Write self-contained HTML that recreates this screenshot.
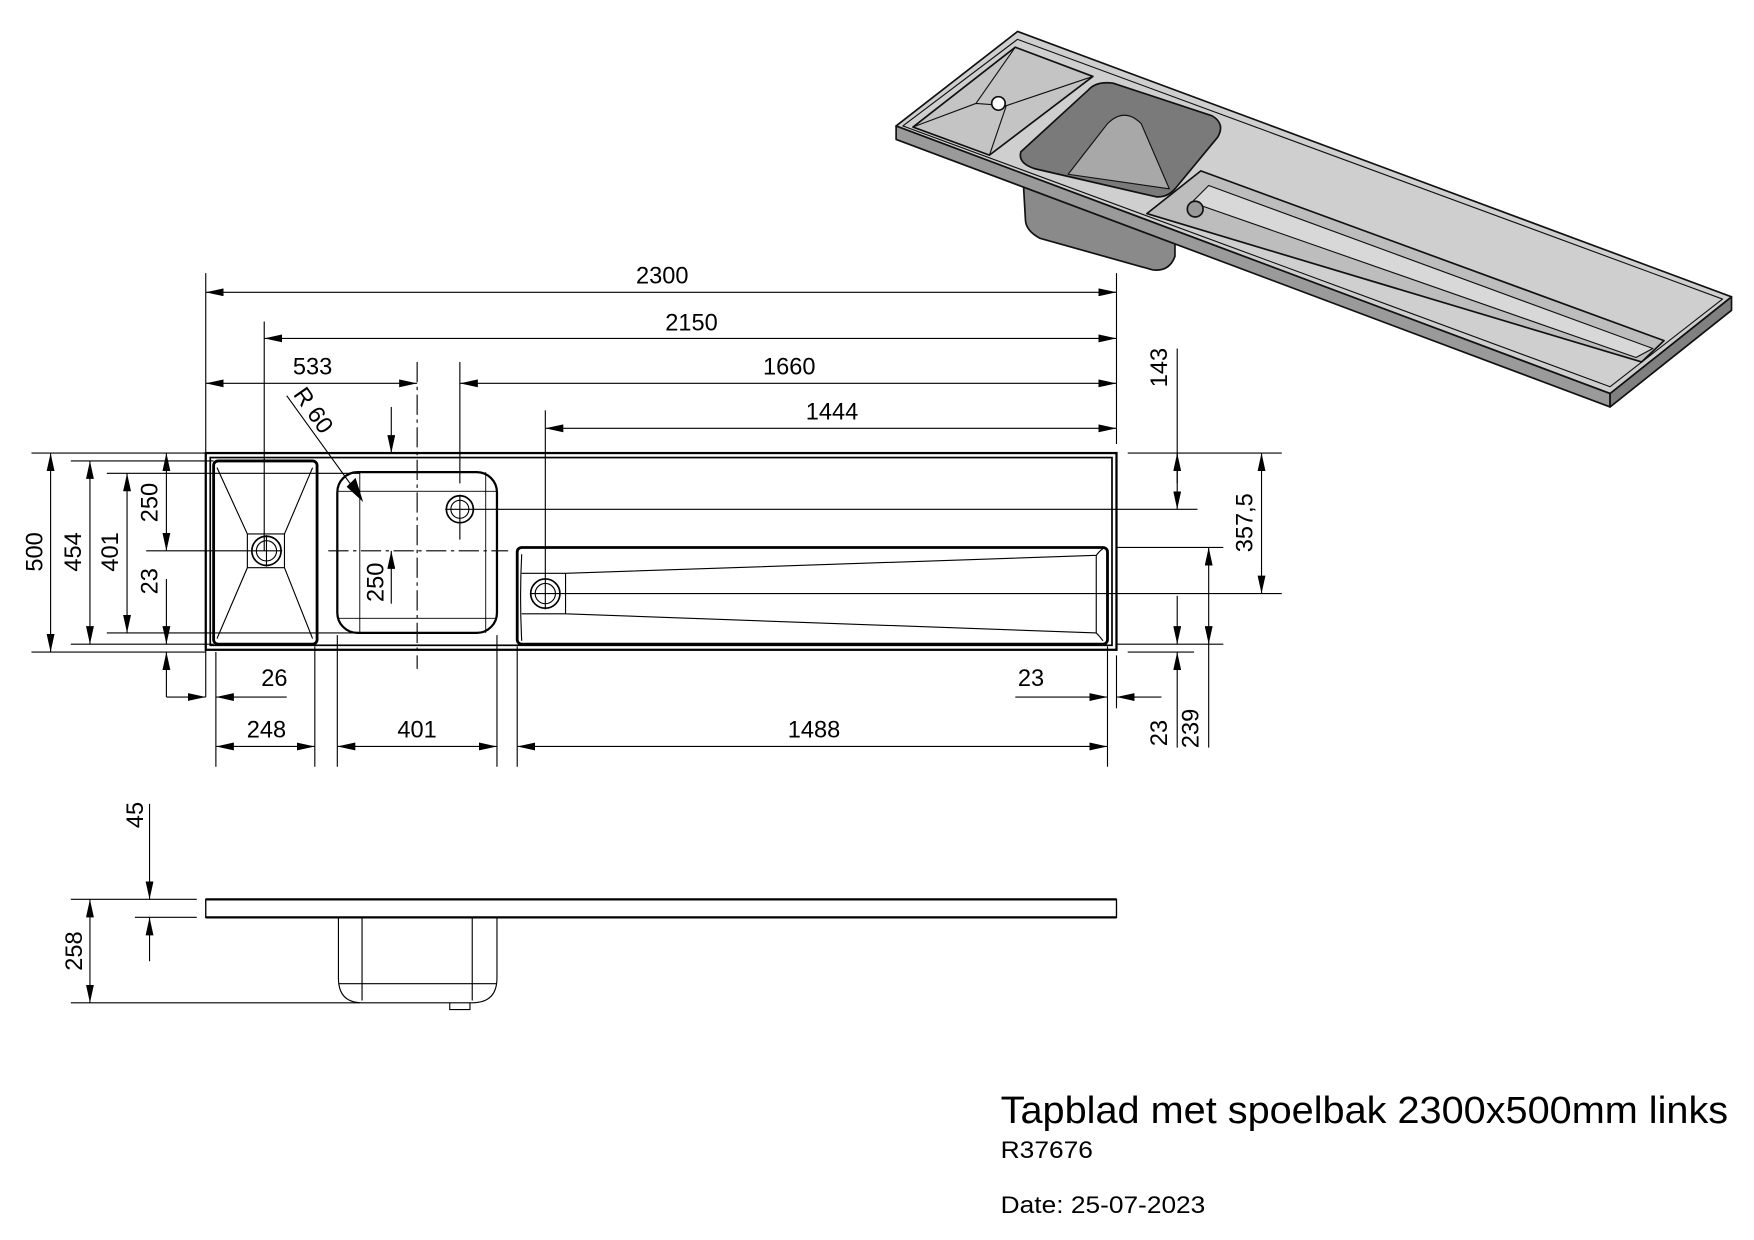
<!DOCTYPE html>
<html><head><meta charset="utf-8"><style>
html,body{margin:0;padding:0;background:#fff;}
svg{display:block;}
text{font-family:"Liberation Sans",Arial,sans-serif;fill:#000;}
</style></head><body>
<svg width="1754" height="1240" viewBox="0 0 1560 1103" preserveAspectRatio="none" xmlns="http://www.w3.org/2000/svg">
<defs>
<marker id="a" viewBox="0 0 16 7" refX="16" refY="3.5" markerWidth="16" markerHeight="7" markerUnits="userSpaceOnUse" orient="auto-start-reverse"><path d="M0,0 L16,3.5 L0,7z" fill="#000"/></marker>
</defs>

<!-- 3D view -->
<g stroke="#111" stroke-width="1.5" stroke-linejoin="round">
<path d="M910,160 L1045,205 L1045,228 Q1040,242 1025,240 L925,212 Q912,205 912,195z" fill="#8a8a8a"/>
<path d="M797,112 L797,124 L1432,362 L1432,350z" fill="#9a9a9a"/>
<path d="M1432,350 L1540,264 L1540,276 L1432,362z" fill="#808080"/>
<path d="M797,112 L905,28 L1540,264 L1432,350z" fill="#cfcfcf"/>
<path d="M803,112 L905,35 L1532,266 L1432,344z" fill="none" stroke-width="1"/>
<path d="M812,113 L903,42 L972,68 L880,138z" fill="#c4c4c4"/>
<path d="M812,113 L868,92 L903,42 M880,138 L895,94 L972,68 M868,92 L895,94" fill="none" stroke-width="1"/>
<circle cx="888" cy="92" r="6" fill="#fff"/>
<path d="M908,135 L968,80 Q975,72 990,74 L1078,103 Q1090,110 1083,122 L1045,168 Q1038,176 1028,175 L920,150 Q905,145 908,135z" fill="#7a7a7a"/>
<path d="M950,155 L985,110 Q1000,95 1015,110 L1040,168z" fill="#a8a8a8" stroke-width="1"/>
<path d="M1020,190 L1068,152 L1480,303 L1460,322z" fill="#bdbdbd"/>
<path d="M1060,180 L1075,165 L1470,310 L1455,318z" fill="#d8d8d8" stroke-width="1"/>
<circle cx="1063" cy="186" r="7" fill="#999"/>
</g>

<g stroke="#000" fill="none">
<rect x="183" y="403" width="810" height="175" stroke-width="2"/>
<rect x="187" y="407" width="802" height="167" stroke-width="1.5"/>
<rect x="190" y="410" width="92" height="163" rx="4" stroke-width="2.5"/>
<path d="M193,416 L220,475 L253,475 L278,416 M193,568 L220,505 L253,505 L278,568 M220,475 L220,505 M253,475 L253,505" stroke-width="1"/>
<circle cx="237" cy="490" r="13" stroke-width="1.5"/><circle cx="237" cy="490" r="9" stroke-width="1"/>
<rect x="300" y="420" width="142" height="143" rx="18" stroke-width="2"/>
<rect x="320" y="437" width="112" height="113" stroke-width="0.8"/>
<path d="M320,420 L320,437 M300,437 L320,437 M432,420 L432,437 M432,437 L442,437 M320,550 L320,563 M300,550 L320,550 M432,550 L432,563 M432,550 L442,550" stroke-width="0.8"/>
<circle cx="409" cy="453" r="12" stroke-width="1.5"/><circle cx="409" cy="453" r="8" stroke-width="1"/>
<rect x="460" y="487" width="525" height="86" rx="4" stroke-width="2.5"/>
<path d="M464,493 Q462,530 464,570 M503,510 L975,494 Q978,490 981,488 M503,546 L975,563 Q978,566 981,570 M503,510 L503,546 M464,510 L503,510 M464,546 L503,546 M975,494 L975,563" stroke-width="1"/>
<circle cx="485" cy="528" r="13" stroke-width="1.5"/><circle cx="485" cy="528" r="9" stroke-width="1"/>

<g stroke-width="1">
<path d="M237,476 L237,504 M223,490 L251,490 M409,440 L409,466 M396,453 L422,453 M485,514 L485,542 M472,528 L498,528"/>
<path d="M292,490 L452,490" stroke-dasharray="18,4,3,4"/>
<path d="M371,322 L371,595" stroke-dasharray="18,4,3,4"/>
</g>

<g stroke-width="1">
<path d="M183,243 L183,620 M993,243 L993,395 M235,286 L235,490 M409,322 L409,430 M409,466 L409,480 M485,365 L485,514"/>
<path d="M192,580 L192,682 M280,575 L280,682 M300,565 L300,682 M442,565 L442,682 M460,575 L460,682 M985,575 L985,682 M993,583 L993,630"/>
<path d="M28,403 L183,403 M63,410 L190,410 M95,421 L320,421 M130,490 L223,490 M95,563 L320,563 M63,573 L190,573 M28,580 L183,580"/>
<path d="M1003,403 L1140,403 M422,453 L1065,453 M993,487 L1088,487 M498,528 L1140,528 M993,573 L1088,573 M1003,580 L1062,580"/>
<path d="M255,352 L320,442"/>
</g>

<g stroke-width="1">
<path d="M183,260 L993,260" marker-start="url(#a)" marker-end="url(#a)"/>
<path d="M235,301 L993,301" marker-start="url(#a)" marker-end="url(#a)"/>
<path d="M183,341 L371,341" marker-start="url(#a)" marker-end="url(#a)"/>
<path d="M409,341 L993,341" marker-start="url(#a)" marker-end="url(#a)"/>
<path d="M485,381 L993,381" marker-start="url(#a)" marker-end="url(#a)"/>
<path d="M45,403 L45,580" marker-start="url(#a)" marker-end="url(#a)"/>
<path d="M80,410 L80,573" marker-start="url(#a)" marker-end="url(#a)"/>
<path d="M113,421 L113,563" marker-start="url(#a)" marker-end="url(#a)"/>
<path d="M148,403 L148,490" marker-start="url(#a)" marker-end="url(#a)"/>
<path d="M148,515 L148,573" marker-end="url(#a)"/>
<path d="M148,620 L148,580" marker-end="url(#a)"/>
<path d="M148,620 L183,620" marker-end="url(#a)"/>
<path d="M255,620 L192,620" marker-end="url(#a)"/>
<path d="M903,620 L985,620" marker-end="url(#a)"/>
<path d="M1033,620 L993,620" marker-end="url(#a)"/>
<path d="M192,664 L280,664" marker-start="url(#a)" marker-end="url(#a)"/>
<path d="M300,664 L442,664" marker-start="url(#a)" marker-end="url(#a)"/>
<path d="M460,664 L985,664" marker-start="url(#a)" marker-end="url(#a)"/>
<path d="M1047,310 L1047,430"/>
<path d="M1047,428 L1047,403" marker-end="url(#a)"/>
<path d="M1047,428 L1047,453" marker-end="url(#a)"/>
<path d="M1122,403 L1122,528" marker-start="url(#a)" marker-end="url(#a)"/>
<path d="M1075,487 L1075,573" marker-start="url(#a)" marker-end="url(#a)"/>
<path d="M1075,573 L1075,665"/>
<path d="M1047,530 L1047,573" marker-end="url(#a)"/>
<path d="M1047,665 L1047,580" marker-end="url(#a)"/>
<path d="M348,362 L348,403" marker-end="url(#a)"/>
<path d="M348,537 L348,490" marker-end="url(#a)"/>
<path d="M322,445 L309,433 L316,426z" fill="#000"/>
</g>

<rect x="183" y="800" width="810" height="16" stroke-width="1.2"/>
<path d="M183,800 L993,800 M183,816 L993,816" stroke-width="2"/>
<path d="M301,816 L301,870 Q301,892 322,892 L420,892 Q442,892 442,870 L442,816 M322,816 L322,890 M420,816 L420,890 M301,875 L442,875" stroke-width="1"/>
<path d="M400,892 L400,898 L418,898 L418,892" stroke-width="1"/>
<g stroke-width="1">
<path d="M63,800 L175,800 M63,892 L320,892 M120,816 L175,816"/>
<path d="M133,715 L133,800" marker-end="url(#a)"/>
<path d="M133,855 L133,816" marker-end="url(#a)"/>
<path d="M80,800 L80,892" marker-start="url(#a)" marker-end="url(#a)"/>
</g>
</g>

<g font-size="21">
<text x="589" y="252" text-anchor="middle">2300</text>
<text x="615" y="294" text-anchor="middle">2150</text>
<text x="278" y="333" text-anchor="middle">533</text>
<text x="702" y="333" text-anchor="middle">1660</text>
<text x="740" y="373" text-anchor="middle">1444</text>
<text x="244" y="610" text-anchor="middle">26</text>
<text x="917" y="610" text-anchor="middle">23</text>
<text x="237" y="656" text-anchor="middle">248</text>
<text x="371" y="656" text-anchor="middle">401</text>
<text x="724" y="656" text-anchor="middle">1488</text>
<text transform="translate(38,491) rotate(-90)" text-anchor="middle">500</text>
<text transform="translate(72,491) rotate(-90)" text-anchor="middle">454</text>
<text transform="translate(105,491) rotate(-90)" text-anchor="middle">401</text>
<text transform="translate(140,447) rotate(-90)" text-anchor="middle">250</text>
<text transform="translate(140,517) rotate(-90)" text-anchor="middle">23</text>
<text transform="translate(341,518) rotate(-90)" text-anchor="middle">250</text>
<text transform="translate(1038,327) rotate(-90)" text-anchor="middle">143</text>
<text transform="translate(1114,465) rotate(-90)" text-anchor="middle">357,5</text>
<text transform="translate(1038,652) rotate(-90)" text-anchor="middle">23</text>
<text transform="translate(1066,648) rotate(-90)" text-anchor="middle">239</text>
<text transform="translate(127,725) rotate(-90)" text-anchor="middle">45</text>
<text transform="translate(73,846) rotate(-90)" text-anchor="middle">258</text>
<text transform="translate(273,369) rotate(55)" text-anchor="middle">R 60</text>
</g>
<text x="890" y="999" font-size="34" textLength="647" lengthAdjust="spacingAndGlyphs">Tapblad met spoelbak 2300x500mm links</text>
<text x="890" y="1030" font-size="21" textLength="82" lengthAdjust="spacingAndGlyphs">R37676</text>
<text x="890" y="1079" font-size="21" textLength="182" lengthAdjust="spacingAndGlyphs">Date: 25-07-2023</text>
</svg>
</body></html>
